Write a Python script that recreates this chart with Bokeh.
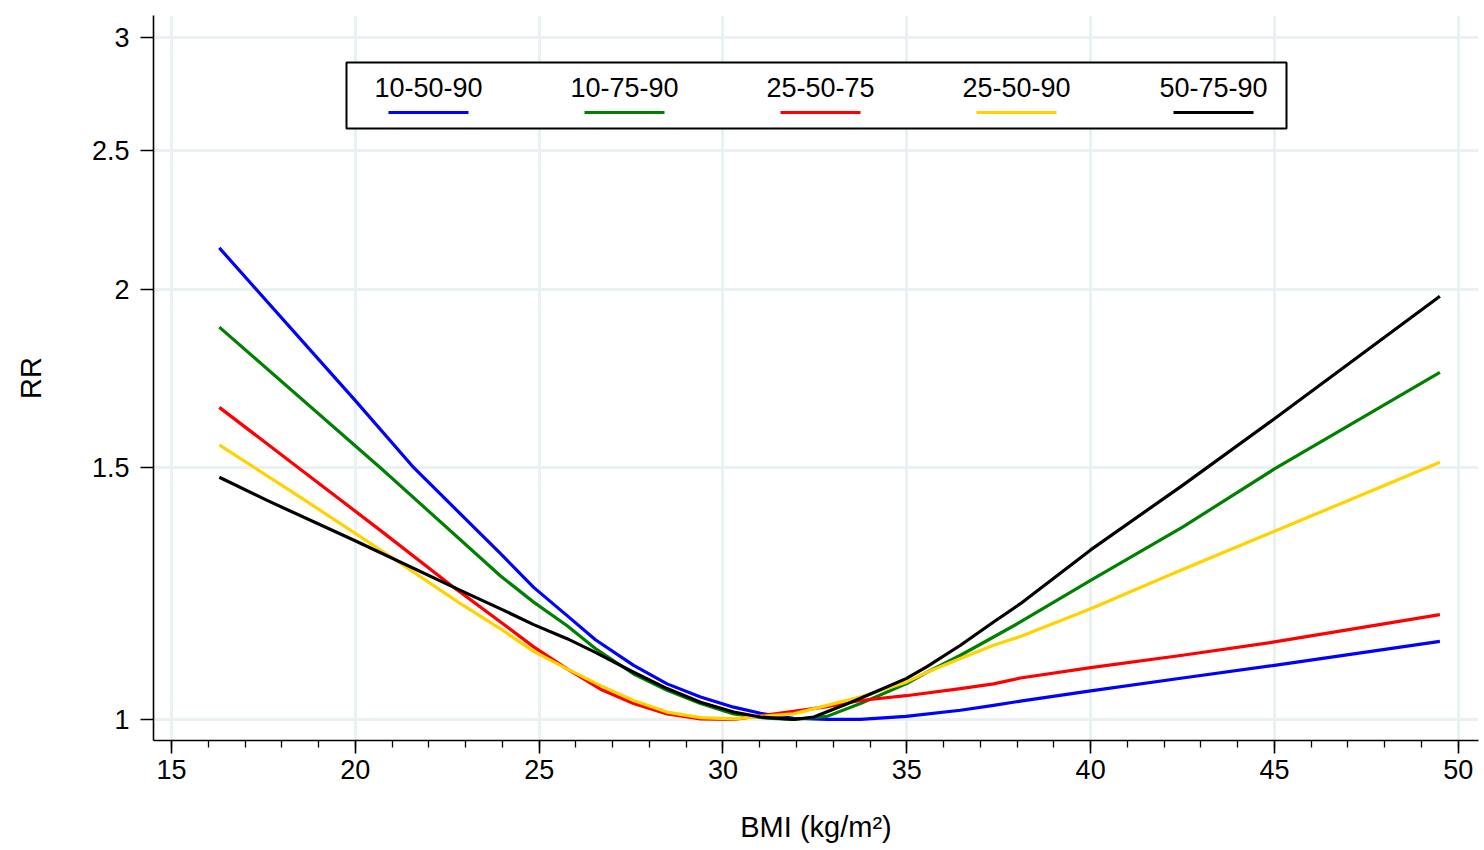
import math
from bokeh.plotting import figure
from bokeh.models import (FixedTicker, SingleIntervalTicker, CustomJSTickFormatter,
                          Label, Range1d)
from bokeh.embed import file_html
from bokeh.resources import INLINE

# ---------------- data ----------------
series_names = ["10-50-90", "10-75-90", "25-50-75", "25-50-90", "50-75-90"]
series_colors = ["#0000FF", "#008000", "#FF0000", "#FFD200", "#000000"]

blue_x = [16.3, 20.0, 21.59, 23.95, 24.85, 25.76, 26.53, 27.57, 28.48, 29.39, 30.29,
          31.02, 31.92, 32.83, 33.74, 34.98, 36.46, 37.36, 38.09, 40.0, 42.5, 45.0, 49.5]
blue_y = [2.137, 1.671, 1.500, 1.306, 1.237, 1.182, 1.137, 1.091, 1.059, 1.037, 1.020,
          1.010, 1.002, 1.000, 1.000, 1.005, 1.015, 1.023, 1.030, 1.047, 1.069, 1.091, 1.134]

green_x = [16.3, 20.68, 23.95, 24.85, 25.76, 26.53, 27.57, 28.48, 29.39, 30.29, 31.20,
           31.92, 32.83, 33.74, 34.98, 35.55, 36.46, 37.36, 38.09, 40.0, 42.5, 45.0, 49.5]
green_y = [1.881, 1.500, 1.260, 1.208, 1.163, 1.121, 1.076, 1.048, 1.026, 1.009, 1.002,
           1.000, 1.005, 1.026, 1.059, 1.079, 1.109, 1.142, 1.170, 1.251, 1.363, 1.497, 1.749]

red_x = [16.3, 18.45, 20.68, 22.68, 23.95, 24.85, 25.76, 26.67, 27.57, 28.48, 29.39,
         30.29, 31.02, 31.92, 32.83, 33.74, 34.98, 36.46, 37.36, 38.09, 40.0, 42.5, 45.0, 49.5]
red_y = [1.653, 1.500, 1.356, 1.237, 1.170, 1.124, 1.085, 1.050, 1.026, 1.009, 1.001,
         1.000, 1.006, 1.013, 1.021, 1.031, 1.039, 1.051, 1.059, 1.069, 1.087, 1.109, 1.133, 1.184]

yellow_x = [16.3, 18.51, 21.05, 22.86, 23.95, 24.85, 25.76, 26.67, 27.57, 28.48, 29.39,
            30.29, 31.02, 31.92, 32.83, 33.74, 34.98, 35.55, 36.46, 37.36, 38.09, 40.0,
            42.5, 45.0, 49.5]
yellow_y = [1.556, 1.430, 1.295, 1.205, 1.157, 1.116, 1.085, 1.056, 1.031, 1.012, 1.003,
            1.001, 1.005, 1.009, 1.023, 1.037, 1.062, 1.079, 1.103, 1.127, 1.143, 1.195,
            1.273, 1.354, 1.513]

black_x = [16.3, 17.6, 19.98, 22.77, 23.95, 24.85, 25.76, 26.53, 27.57, 28.48, 29.39,
           30.29, 31.02, 31.92, 32.47, 33.28, 34.01, 34.98, 35.55, 36.46, 37.36, 38.09,
           40.0, 42.5, 45.0, 49.5]
black_y = [1.477, 1.423, 1.334, 1.234, 1.195, 1.165, 1.139, 1.114, 1.079, 1.051, 1.028,
           1.012, 1.004, 1.000, 1.004, 1.023, 1.042, 1.068, 1.089, 1.127, 1.170, 1.205,
           1.314, 1.458, 1.623, 1.977]

x_ticks_interval = 5
y_ticks = [1, 1.5, 2, 2.5, 3]
x_title = "BMI (kg/m\u00b2)"
y_title = "RR"

# ---------------- layout ----------------
W, H = 1480, 848
BL, BR, BT, BB = 153, 2, 15, 108
X0, X1 = 14.51, 50.55
Y0, Y1 = 0.9667, 3.107
FONT = "Liberation Sans"
GRID = "#EAF1F3"

p = figure(width=W, height=H, y_axis_type="log",
           x_range=Range1d(X0, X1), y_range=Range1d(Y0, Y1),
           output_backend="svg", toolbar_location=None,
           min_border_left=BL, min_border_right=BR,
           min_border_top=BT, min_border_bottom=BB)
p.outline_line_color = None
p.background_fill_color = "white"
p.border_fill_color = "white"

# frame geometry (in figure pixels) to place the legend in data space
FW = W - BL - BR
FH = H - BT - BB


def fx(px):
    return X0 + (px - BL) / FW * (X1 - X0)


def fy(py):
    ly0, ly1 = math.log(Y0), math.log(Y1)
    return math.exp(ly0 + (BT + FH - py) / FH * (ly1 - ly0))


# axes
p.xaxis.ticker = SingleIntervalTicker(interval=x_ticks_interval, num_minor_ticks=5)
p.yaxis.ticker = FixedTicker(ticks=y_ticks)
p.yaxis.formatter = CustomJSTickFormatter(code="return tick.toString();")

for ax in (p.xaxis, p.yaxis):
    ax.axis_line_color = "black"
    ax.axis_line_width = 1.6
    ax.major_tick_line_color = "black"
    ax.major_tick_line_width = 1.6
    ax.major_tick_out = 13
    ax.major_tick_in = 0
    ax.minor_tick_line_color = "black"
    ax.minor_tick_line_width = 1.3
    ax.minor_tick_out = 7
    ax.minor_tick_in = 0
    ax.major_label_text_font = FONT
    ax.major_label_text_font_size = "27px"
    ax.major_label_text_color = "black"
    ax.axis_label_text_font = FONT
    ax.axis_label_text_font_size = "29px"
    ax.axis_label_text_font_style = "normal"
    ax.axis_label_text_color = "black"

p.yaxis.minor_tick_line_color = None
p.xaxis.major_label_standoff = 6
p.yaxis.major_label_standoff = 11
p.xaxis.axis_label = x_title
p.yaxis.axis_label = y_title
p.xaxis.axis_label_standoff = 29
p.yaxis.axis_label_standoff = 42

p.xgrid.grid_line_color = GRID
p.ygrid.grid_line_color = GRID
p.xgrid.grid_line_width = 3
p.ygrid.grid_line_width = 3

# legend box (behind lines, above grid)
p.quad(left=[fx(346)], right=[fx(1286)], top=[fy(62)], bottom=[fy(128)],
       fill_color="white", line_color="black", line_width=2)

# data lines
all_x = [blue_x, green_x, red_x, yellow_x, black_x]
all_y = [blue_y, green_y, red_y, yellow_y, black_y]
for xs, ys, c in zip(all_x, all_y, series_colors):
    p.line(xs, ys, line_color=c, line_width=3.2, line_join="round")

# legend entries: label above a short line sample
centers = [428, 624, 820, 1016, 1213]
for name, c, cx in zip(series_names, series_colors, centers):
    p.segment(x0=[fx(cx - 40)], y0=[fy(112)], x1=[fx(cx + 40)], y1=[fy(112)],
              line_color=c, line_width=3)
    p.add_layout(Label(x=fx(cx), y=fy(87), text=name, text_align="center",
                       text_baseline="middle", text_font=FONT,
                       text_font_size="27px", text_color="black"))

open("out.html", "w").write(file_html(p, INLINE))
